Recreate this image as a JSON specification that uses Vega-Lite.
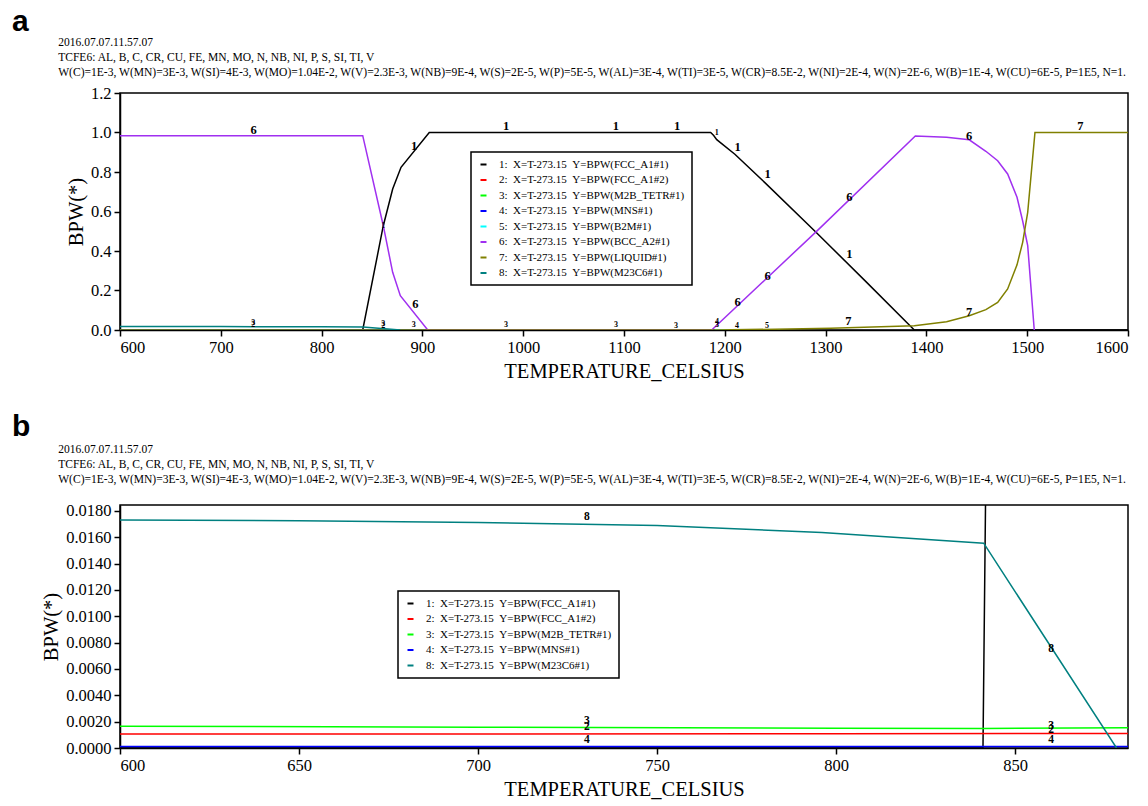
{
  "$schema": "https://vega.github.io/schema/vega-lite/v6.json",
  "padding": {"left": 11, "top": 6, "right": 0, "bottom": 0},
  "spacing": 28,
  "background": "#ffffff",
  "config": {
    "view": {"stroke": "#000000", "strokeWidth": 1.5},
    "axis": {"grid": false, "domainColor": "#000000", "domainWidth": 1.5, "tickColor": "#000000", "tickWidth": 1.5, "tickSize": 6, "labelFont": "Liberation Serif", "labelFontSize": 16.5, "labelColor": "#000000", "titleFont": "Liberation Serif", "titleFontSize": 20.5, "titleFontWeight": "normal", "titleColor": "#000000", "labelPadding": 2},
    "axisX": {"titlePadding": 6, "labelPadding": 3},
    "axisY": {"titlePadding": 4, "labelPadding": 3},
    "title": {"anchor": "start", "frame": "group", "font": "Liberation Sans", "fontSize": 30, "fontWeight": "bold", "color": "#000000", "subtitleFont": "Liberation Serif", "subtitleFontSize": 11.55, "subtitleColor": "#000000", "subtitleLineHeight": 15, "dx": -108},
    "legend": {"orient": "none", "strokeColor": "#000000", "strokeWidth": 1.5, "fillColor": "#ffffff", "padding": 7, "labelFont": "Liberation Serif", "labelFontSize": 11, "labelColor": "#000000", "labelLimit": 400, "symbolType": "stroke", "symbolSize": 36, "symbolStrokeWidth": 2, "labelOffset": 10, "rowPadding": 3.5}
  },
  "datasets": {
    "a": [
      {"s": "1|FCC_A1#1", "t": 600, "y": 0}, {"s": "1|FCC_A1#1", "t": 840.8, "y": 0}, {"s": "1|FCC_A1#1", "t": 861.2, "y": 0.528}, {"s": "1|FCC_A1#1", "t": 870.5, "y": 0.714}, {"s": "1|FCC_A1#1", "t": 878.8, "y": 0.824}, {"s": "1|FCC_A1#1", "t": 906.8, "y": 1.0}, {"s": "1|FCC_A1#1", "t": 1186, "y": 1.0}, {"s": "1|FCC_A1#1", "t": 1189, "y": 0.985}, {"s": "1|FCC_A1#1", "t": 1192, "y": 0.964}, {"s": "1|FCC_A1#1", "t": 1210, "y": 0.89}, {"s": "1|FCC_A1#1", "t": 1240, "y": 0.745}, {"s": "1|FCC_A1#1", "t": 1290.5, "y": 0.495}, {"s": "1|FCC_A1#1", "t": 1340, "y": 0.245}, {"s": "1|FCC_A1#1", "t": 1388, "y": 0}, {"s": "1|FCC_A1#1", "t": 1600, "y": 0},
      {"s": "2|FCC_A1#2", "t": 600, "y": 0.0011}, {"s": "2|FCC_A1#2", "t": 882, "y": 0.0011}, {"s": "2|FCC_A1#2", "t": 1190, "y": 0.001}, {"s": "2|FCC_A1#2", "t": 1192, "y": 0},
      {"s": "3|M2B_TETR#1", "t": 600, "y": 0.00165}, {"s": "3|M2B_TETR#1", "t": 841, "y": 0.00148}, {"s": "3|M2B_TETR#1", "t": 882, "y": 0.00154}, {"s": "3|M2B_TETR#1", "t": 1190, "y": 0.0015}, {"s": "3|M2B_TETR#1", "t": 1195, "y": 0},
      {"s": "4|MNS#1", "t": 600, "y": 0.0001}, {"s": "4|MNS#1", "t": 1230, "y": 0.0001}, {"s": "4|MNS#1", "t": 1235, "y": 0},
      {"s": "5|B2M#1", "t": 1190, "y": 0}, {"s": "5|B2M#1", "t": 1200, "y": 0.001}, {"s": "5|B2M#1", "t": 1240, "y": 0.001}, {"s": "5|B2M#1", "t": 1255, "y": 0},
      {"s": "6|BCC_A2#1", "t": 600, "y": 0.984}, {"s": "6|BCC_A2#1", "t": 840.8, "y": 0.984}, {"s": "6|BCC_A2#1", "t": 861.2, "y": 0.528}, {"s": "6|BCC_A2#1", "t": 870.5, "y": 0.292}, {"s": "6|BCC_A2#1", "t": 878.1, "y": 0.174}, {"s": "6|BCC_A2#1", "t": 905.3, "y": 0}, {"s": "6|BCC_A2#1", "t": 1187, "y": 0}, {"s": "6|BCC_A2#1", "t": 1290.5, "y": 0.497}, {"s": "6|BCC_A2#1", "t": 1389, "y": 0.982}, {"s": "6|BCC_A2#1", "t": 1420, "y": 0.976}, {"s": "6|BCC_A2#1", "t": 1442.5, "y": 0.963}, {"s": "6|BCC_A2#1", "t": 1459, "y": 0.905}, {"s": "6|BCC_A2#1", "t": 1470.7, "y": 0.857}, {"s": "6|BCC_A2#1", "t": 1480.6, "y": 0.79}, {"s": "6|BCC_A2#1", "t": 1489.9, "y": 0.672}, {"s": "6|BCC_A2#1", "t": 1495.5, "y": 0.552}, {"s": "6|BCC_A2#1", "t": 1500.5, "y": 0.427}, {"s": "6|BCC_A2#1", "t": 1507, "y": 0},
      {"s": "7|LIQUID#1", "t": 600, "y": 0}, {"s": "7|LIQUID#1", "t": 1190, "y": 0}, {"s": "7|LIQUID#1", "t": 1250, "y": 0.004}, {"s": "7|LIQUID#1", "t": 1305, "y": 0.009}, {"s": "7|LIQUID#1", "t": 1388, "y": 0.022}, {"s": "7|LIQUID#1", "t": 1420, "y": 0.042}, {"s": "7|LIQUID#1", "t": 1442.5, "y": 0.072}, {"s": "7|LIQUID#1", "t": 1459, "y": 0.103}, {"s": "7|LIQUID#1", "t": 1470.7, "y": 0.14}, {"s": "7|LIQUID#1", "t": 1480.6, "y": 0.208}, {"s": "7|LIQUID#1", "t": 1489.9, "y": 0.33}, {"s": "7|LIQUID#1", "t": 1495.5, "y": 0.444}, {"s": "7|LIQUID#1", "t": 1500.5, "y": 0.596}, {"s": "7|LIQUID#1", "t": 1507.7, "y": 1.0}, {"s": "7|LIQUID#1", "t": 1600, "y": 1.0},
      {"s": "8|M23C6#1", "t": 600, "y": 0.0173}, {"s": "8|M23C6#1", "t": 700, "y": 0.0171}, {"s": "8|M23C6#1", "t": 800, "y": 0.0163}, {"s": "8|M23C6#1", "t": 841, "y": 0.0155}, {"s": "8|M23C6#1", "t": 878, "y": 0}
    ],
    "la": [
      {"t": 732.6, "y": 1.014, "k": "6"}, {"t": 983, "y": 1.033, "k": "1"}, {"t": 1092, "y": 1.033, "k": "1"}, {"t": 1152.6, "y": 1.033, "k": "1"}, {"t": 891.7, "y": 0.932, "k": "1"}, {"t": 1212.7, "y": 0.925, "k": "1"}, {"t": 1242.5, "y": 0.79, "k": "1"}, {"t": 1323.5, "y": 0.385, "k": "1"}, {"t": 893, "y": 0.132, "k": "6"}, {"t": 1212.7, "y": 0.14, "k": "6"}, {"t": 1242.5, "y": 0.275, "k": "6"}, {"t": 1323.5, "y": 0.672, "k": "6"}, {"t": 1442.5, "y": 0.981, "k": "6"}, {"t": 1552.7, "y": 1.034, "k": "7"}, {"t": 1442.5, "y": 0.093, "k": "7"}, {"t": 1322.5, "y": 0.044, "k": "7"}
    ],
    "ta": [
      {"t": 732.3, "y": 0.036, "k": "3"}, {"t": 732.3, "y": 0.024, "k": "2"}, {"t": 861.2, "y": 0.03, "k": "3"}, {"t": 861.2, "y": 0.022, "k": "2"}, {"t": 861.2, "y": 0.528, "k": "1"}, {"t": 891.4, "y": 0.025, "k": "3"}, {"t": 983, "y": 0.024, "k": "3"}, {"t": 1092, "y": 0.024, "k": "3"}, {"t": 1151.6, "y": 0.022, "k": "3"}, {"t": 1192.3, "y": 0.039, "k": "4"}, {"t": 1192.3, "y": 0.024, "k": "3"}, {"t": 1212, "y": 0.022, "k": "4"}, {"t": 1241.9, "y": 0.02, "k": "5"}, {"t": 1192, "y": 1.0, "k": "1"}
    ],
    "b": [
      {"s": "1|FCC_A1#1", "t": 600, "y": 0}, {"s": "1|FCC_A1#1", "t": 841, "y": 0}, {"s": "1|FCC_A1#1", "t": 861.2, "y": 0.528},
      {"s": "2|FCC_A1#2", "t": 600, "y": 0.00106}, {"s": "2|FCC_A1#2", "t": 700, "y": 0.00107}, {"s": "2|FCC_A1#2", "t": 800, "y": 0.00109}, {"s": "2|FCC_A1#2", "t": 882, "y": 0.00111},
      {"s": "3|M2B_TETR#1", "t": 600, "y": 0.00165}, {"s": "3|M2B_TETR#1", "t": 700, "y": 0.00158}, {"s": "3|M2B_TETR#1", "t": 800, "y": 0.0015}, {"s": "3|M2B_TETR#1", "t": 841, "y": 0.00148}, {"s": "3|M2B_TETR#1", "t": 882, "y": 0.00154},
      {"s": "4|MNS#1", "t": 600, "y": 0.00012}, {"s": "4|MNS#1", "t": 882, "y": 0.00012},
      {"s": "8|M23C6#1", "t": 600, "y": 0.01732}, {"s": "8|M23C6#1", "t": 650, "y": 0.01726}, {"s": "8|M23C6#1", "t": 700, "y": 0.01712}, {"s": "8|M23C6#1", "t": 750, "y": 0.0169}, {"s": "8|M23C6#1", "t": 796, "y": 0.01636}, {"s": "8|M23C6#1", "t": 841.2, "y": 0.01555}, {"s": "8|M23C6#1", "t": 878.3, "y": 0}
    ],
    "lb": [
      {"t": 730.4, "y": 0.01752, "k": "8"}, {"t": 860, "y": 0.00751, "k": "8"}, {"t": 730.4, "y": 0.00205, "k": "3"}, {"t": 730.4, "y": 0.00159, "k": "2"}, {"t": 730.4, "y": 0.00061, "k": "4"}, {"t": 860, "y": 0.00167, "k": "3"}, {"t": 860, "y": 0.00137, "k": "2"}, {"t": 860, "y": 0.00061, "k": "4"}
    ]
  },
  "vconcat": [
    {
      "width": 1008,
      "height": 237,
      "title": {
        "text": "a",
        "subtitlePadding": 0,
        "offset": 6,
        "subtitle": [
          "\u200b\u00a0\u00a0\u00a0\u00a0\u00a0\u00a0\u00a0\u00a0\u00a0\u00a0\u00a0\u00a0\u00a0\u00a0\u00a0\u00a02016.07.07.11.57.07",
          "\u200b\u00a0\u00a0\u00a0\u00a0\u00a0\u00a0\u00a0\u00a0\u00a0\u00a0\u00a0\u00a0\u00a0\u00a0\u00a0\u00a0TCFE6: AL, B, C, CR, CU, FE, MN, MO, N, NB, NI, P, S, SI, TI, V",
          "\u200b\u00a0\u00a0\u00a0\u00a0\u00a0\u00a0\u00a0\u00a0\u00a0\u00a0\u00a0\u00a0\u00a0\u00a0\u00a0\u00a0W(C)=1E-3, W(MN)=3E-3, W(SI)=4E-3, W(MO)=1.04E-2, W(V)=2.3E-3, W(NB)=9E-4, W(S)=2E-5, W(P)=5E-5, W(AL)=3E-4, W(TI)=3E-5, W(CR)=8.5E-2, W(NI)=2E-4, W(N)=2E-6, W(B)=1E-4, W(CU)=6E-5, P=1E5, N=1."
        ]
      },
      "encoding": {
        "x": {"field": "t", "type": "quantitative", "scale": {"domain": [600, 1600], "nice": false, "zero": false}, "axis": {"title": "TEMPERATURE_CELSIUS", "values": [600, 700, 800, 900, 1000, 1100, 1200, 1300, 1400, 1500, 1600], "format": "d"}},
        "y": {"field": "y", "type": "quantitative", "scale": {"domain": [0, 1.2], "nice": false}, "axis": {"title": "BPW(*)", "values": [0, 0.2, 0.4, 0.6, 0.8, 1.0, 1.2], "format": ".1f"}}
      },
      "layer": [
        {
          "data": {"name": "a"},
          "mark": {"type": "line", "strokeWidth": 1.5, "clip": true},
          "encoding": {
            "color": {"field": "s", "type": "nominal",
              "scale": {"domain": ["1|FCC_A1#1", "2|FCC_A1#2", "3|M2B_TETR#1", "4|MNS#1", "5|B2M#1", "6|BCC_A2#1", "7|LIQUID#1", "8|M23C6#1"], "range": ["#000000", "#ff0000", "#00ff00", "#0000ff", "#00ffff", "#a030f0", "#808000", "#008080"]},
              "legend": {"title": null, "legendX": 351, "legendY": 59, "labelExpr": "split(datum.label,'|')[0] + ':\u00a0\u00a0X=T-273.15\u00a0\u00a0Y=BPW(' + split(datum.label,'|')[1] + ')'"}}
          }
        },
        {
          "data": {"name": "la"},
          "mark": {"type": "text", "font": "Liberation Serif", "fontWeight": "bold", "fontSize": 12.5, "color": "#000000", "baseline": "middle", "align": "center"},
          "encoding": {"text": {"field": "k"}}
        },
        {
          "data": {"name": "ta"},
          "mark": {"type": "text", "font": "Liberation Serif", "fontWeight": "bold", "fontSize": 8, "color": "#000000", "baseline": "middle", "align": "center"},
          "encoding": {"text": {"field": "k"}}
        }
      ]
    },
    {
      "width": 1008,
      "height": 243,
      "title": {
        "text": "b",
        "subtitlePadding": 2,
        "offset": 17,
        "subtitle": [
          "\u200b\u00a0\u00a0\u00a0\u00a0\u00a0\u00a0\u00a0\u00a0\u00a0\u00a0\u00a0\u00a0\u00a0\u00a0\u00a0\u00a02016.07.07.11.57.07",
          "\u200b\u00a0\u00a0\u00a0\u00a0\u00a0\u00a0\u00a0\u00a0\u00a0\u00a0\u00a0\u00a0\u00a0\u00a0\u00a0\u00a0TCFE6: AL, B, C, CR, CU, FE, MN, MO, N, NB, NI, P, S, SI, TI, V",
          "\u200b\u00a0\u00a0\u00a0\u00a0\u00a0\u00a0\u00a0\u00a0\u00a0\u00a0\u00a0\u00a0\u00a0\u00a0\u00a0\u00a0W(C)=1E-3, W(MN)=3E-3, W(SI)=4E-3, W(MO)=1.04E-2, W(V)=2.3E-3, W(NB)=9E-4, W(S)=2E-5, W(P)=5E-5, W(AL)=3E-4, W(TI)=3E-5, W(CR)=8.5E-2, W(NI)=2E-4, W(N)=2E-6, W(B)=1E-4, W(CU)=6E-5, P=1E5, N=1."
        ]
      },
      "encoding": {
        "x": {"field": "t", "type": "quantitative", "scale": {"domain": [600, 881.5], "nice": false, "zero": false}, "axis": {"title": "TEMPERATURE_CELSIUS", "values": [600, 650, 700, 750, 800, 850], "format": "d"}},
        "y": {"field": "y", "type": "quantitative", "scale": {"domain": [0, 0.01845], "nice": false}, "axis": {"title": "BPW(*)", "values": [0, 0.002, 0.004, 0.006, 0.008, 0.01, 0.012, 0.014, 0.016, 0.018], "format": ".4f"}}
      },
      "layer": [
        {
          "data": {"name": "b"},
          "mark": {"type": "line", "strokeWidth": 1.5, "clip": true},
          "encoding": {
            "color": {"field": "s", "type": "nominal",
              "scale": {"domain": ["1|FCC_A1#1", "2|FCC_A1#2", "3|M2B_TETR#1", "4|MNS#1", "8|M23C6#1"], "range": ["#000000", "#ff0000", "#00ff00", "#0000ff", "#008080"]},
              "legend": {"title": null, "legendX": 278, "legendY": 86, "labelExpr": "split(datum.label,'|')[0] + ':\u00a0\u00a0X=T-273.15\u00a0\u00a0Y=BPW(' + split(datum.label,'|')[1] + ')'"}}
          }
        },
        {
          "data": {"name": "lb"},
          "mark": {"type": "text", "font": "Liberation Serif", "fontWeight": "bold", "fontSize": 11.5, "color": "#000000", "baseline": "middle", "align": "center"},
          "encoding": {"text": {"field": "k"}}
        }
      ]
    }
  ],
  "resolve": {"scale": {"color": "independent", "x": "independent", "y": "independent"}, "legend": {"color": "independent"}}
}
